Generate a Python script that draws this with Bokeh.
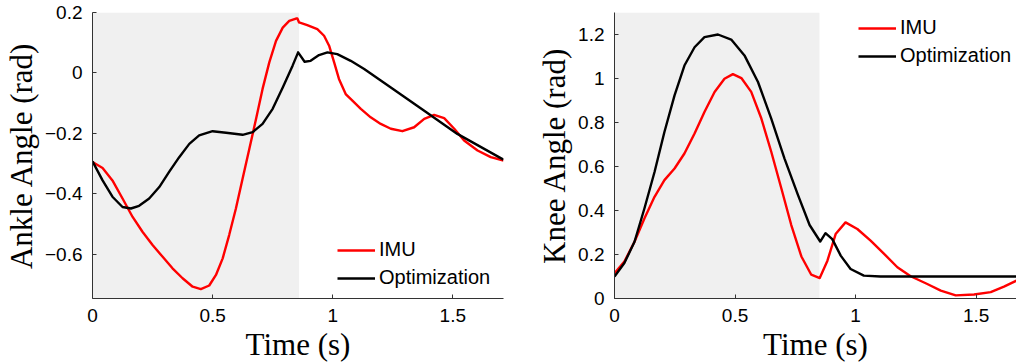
from bokeh.plotting import figure
from bokeh.layouts import row
from bokeh.models import Range1d, FixedTicker, BoxAnnotation, Legend, LegendItem
from bokeh.embed import file_html
from bokeh.resources import INLINE

# ---- Ankle (left) ----
ankle_imu_t = [0, 0.042, 0.083, 0.125, 0.167, 0.208, 0.25, 0.292, 0.333, 0.375, 0.417, 0.451, 0.486, 0.514,
               0.542, 0.569, 0.597, 0.625, 0.653, 0.681, 0.708, 0.736, 0.764, 0.792, 0.819, 0.847, 0.853, 0.86,
               0.894, 0.936, 0.964, 0.985, 1.006, 1.026, 1.054, 1.082, 1.117, 1.158, 1.2, 1.242, 1.29, 1.339,
               1.381, 1.422, 1.464, 1.506, 1.547, 1.603, 1.658, 1.711]
ankle_imu = [-0.295, -0.315, -0.356, -0.416, -0.477, -0.526, -0.57, -0.609, -0.647, -0.68, -0.708, -0.716,
             -0.704, -0.669, -0.614, -0.537, -0.449, -0.35, -0.251, -0.152, -0.053, 0.035, 0.106, 0.15, 0.172,
             0.18, 0.18, 0.167, 0.158, 0.145, 0.123, 0.09, 0.035, -0.02, -0.07, -0.092, -0.119, -0.147, -0.169,
             -0.185, -0.193, -0.18, -0.152, -0.139, -0.15, -0.185, -0.224, -0.257, -0.279, -0.29]
ankle_opt_t = [0, 0.042, 0.083, 0.125, 0.16, 0.194, 0.236, 0.278, 0.319, 0.361, 0.403, 0.444, 0.5, 0.556,
               0.625, 0.667, 0.708, 0.75, 0.792, 0.833, 0.856, 0.883, 0.908, 0.943, 0.978, 1.019, 1.075, 1.131,
               1.242, 1.381, 1.519, 1.711]
ankle_opt = [-0.293, -0.356, -0.41, -0.444, -0.449, -0.44, -0.416, -0.378, -0.328, -0.279, -0.235, -0.207,
             -0.193, -0.198, -0.205, -0.196, -0.169, -0.119, -0.048, 0.024, 0.068, 0.037, 0.04, 0.059, 0.068,
             0.062, 0.04, 0.013, -0.048, -0.125, -0.202, -0.287]

# ---- Knee (right) ----
knee_imu_t = [0, 0.041, 0.083, 0.124, 0.166, 0.207, 0.249, 0.29, 0.332, 0.373, 0.415, 0.456, 0.491, 0.526,
              0.567, 0.609, 0.65, 0.692, 0.733, 0.775, 0.816, 0.851, 0.883, 0.917, 0.958, 1.007, 1.062, 1.118,
              1.173, 1.228, 1.297, 1.353, 1.415, 1.491, 1.56, 1.615, 1.667]
knee_imu = [0.115, 0.168, 0.258, 0.364, 0.462, 0.538, 0.591, 0.659, 0.75, 0.848, 0.939, 0.999, 1.02, 1.002,
            0.939, 0.818, 0.667, 0.5, 0.334, 0.191, 0.108, 0.093, 0.172, 0.293, 0.346, 0.316, 0.263, 0.203,
            0.142, 0.101, 0.066, 0.036, 0.014, 0.018, 0.029, 0.054, 0.081]
knee_opt_t = [0, 0.041, 0.083, 0.124, 0.166, 0.207, 0.249, 0.29, 0.332, 0.373, 0.429, 0.484, 0.539, 0.595,
              0.65, 0.705, 0.761, 0.809, 0.853, 0.875, 0.903, 0.938, 0.979, 1.034, 1.103, 1.667]
knee_opt = [0.1, 0.161, 0.258, 0.409, 0.575, 0.757, 0.923, 1.059, 1.142, 1.188, 1.2, 1.177, 1.105, 0.984,
            0.818, 0.636, 0.47, 0.334, 0.259, 0.297, 0.27, 0.195, 0.134, 0.104, 0.1, 0.1]

shade_end = [0.86, 0.85]
legend_labels = ["IMU", "Optimization"]

TICK_FONT = "Liberation Sans"
LABEL_FONT = "Liberation Serif"


def style(p, xticks, yticks, ylabels, ylabel):
    p.xaxis.ticker = FixedTicker(ticks=xticks)
    p.yaxis.ticker = FixedTicker(ticks=yticks)
    p.xaxis.major_label_overrides = {t: ("0" if t == 0 else ("%g" % t)) for t in xticks}
    p.yaxis.major_label_overrides = dict(zip(yticks, ylabels))
    for ax in (p.xaxis[0], p.yaxis[0]):
        ax.major_tick_in = 4
        ax.major_tick_out = 0
        ax.minor_tick_in = 0
        ax.minor_tick_out = 0
        ax.axis_line_color = "#333333"
        ax.major_tick_line_color = "#333333"
        ax.major_label_text_font = TICK_FONT
        ax.major_label_text_font_size = "19px"
        ax.major_label_text_color = "black"
        ax.axis_label_text_font = LABEL_FONT
        ax.axis_label_text_font_size = "31px"
        ax.axis_label_text_font_style = "normal"
        ax.axis_label_text_color = "black"
    p.xaxis.major_label_standoff = 10
    p.yaxis.major_label_standoff = 10
    p.xaxis.axis_label = "Time (s)"
    p.yaxis.axis_label = ylabel
    p.xaxis.axis_label_standoff = 2
    p.yaxis.axis_label_standoff = 3
    p.xgrid.visible = False
    p.ygrid.visible = False
    p.outline_line_color = None


def add_legend(p, r1, r2, loc):
    leg = Legend(items=[LegendItem(label=legend_labels[0], renderers=[r1]),
                        LegendItem(label=legend_labels[1], renderers=[r2])],
                 location=loc, padding=0, margin=0, spacing=5,
                 glyph_width=38, glyph_height=20, label_height=20, label_standoff=4,
                 background_fill_alpha=0, border_line_alpha=0,
                 label_text_font=TICK_FONT, label_text_font_size="20px", label_text_color="black")
    p.add_layout(leg)


p1 = figure(width=510, height=364, output_backend="svg", toolbar_location=None,
            x_range=Range1d(0, 1.711), y_range=Range1d(-0.747, 0.2),
            min_border_left=92, min_border_right=7, min_border_top=11, min_border_bottom=66)
p1.add_layout(BoxAnnotation(left=0, right=shade_end[0], fill_color="#f0f0f0", fill_alpha=1, line_alpha=0, level="underlay"))
ra = p1.line(ankle_imu_t, ankle_imu, line_color="#ff0000", line_width=2.4, line_join="round")
rb = p1.line(ankle_opt_t, ankle_opt, line_color="black", line_width=2.4, line_join="round")
style(p1, [0, 0.5, 1, 1.5], [-0.6, -0.4, -0.2, 0, 0.2],
      ["\u22120.6", "\u22120.4", "\u22120.2", "0", "0.2"], "Ankle Angle (rad)")
add_legend(p1, ra, rb, (245, 9))

p2 = figure(width=506, height=364, output_backend="svg", toolbar_location=None,
            x_range=Range1d(0, 1.667), y_range=Range1d(0, 1.3),
            min_border_left=104, min_border_right=0, min_border_top=12, min_border_bottom=66)
p2.add_layout(BoxAnnotation(left=0, right=shade_end[1], fill_color="#f0f0f0", fill_alpha=1, line_alpha=0, level="underlay"))
rc = p2.line(knee_imu_t, knee_imu, line_color="#ff0000", line_width=2.4, line_join="round")
rd = p2.line(knee_opt_t, knee_opt, line_color="black", line_width=2.4, line_join="round")
style(p2, [0, 0.5, 1, 1.5], [0, 0.2, 0.4, 0.6, 0.8, 1.0, 1.2],
      ["0", "0.2", "0.4", "0.6", "0.8", "1", "1.2"], "Knee Angle (rad)")
add_legend(p2, rc, rd, (244, 231))

layout = row(p1, p2)
open("out.html", "w").write(file_html(layout, INLINE))
